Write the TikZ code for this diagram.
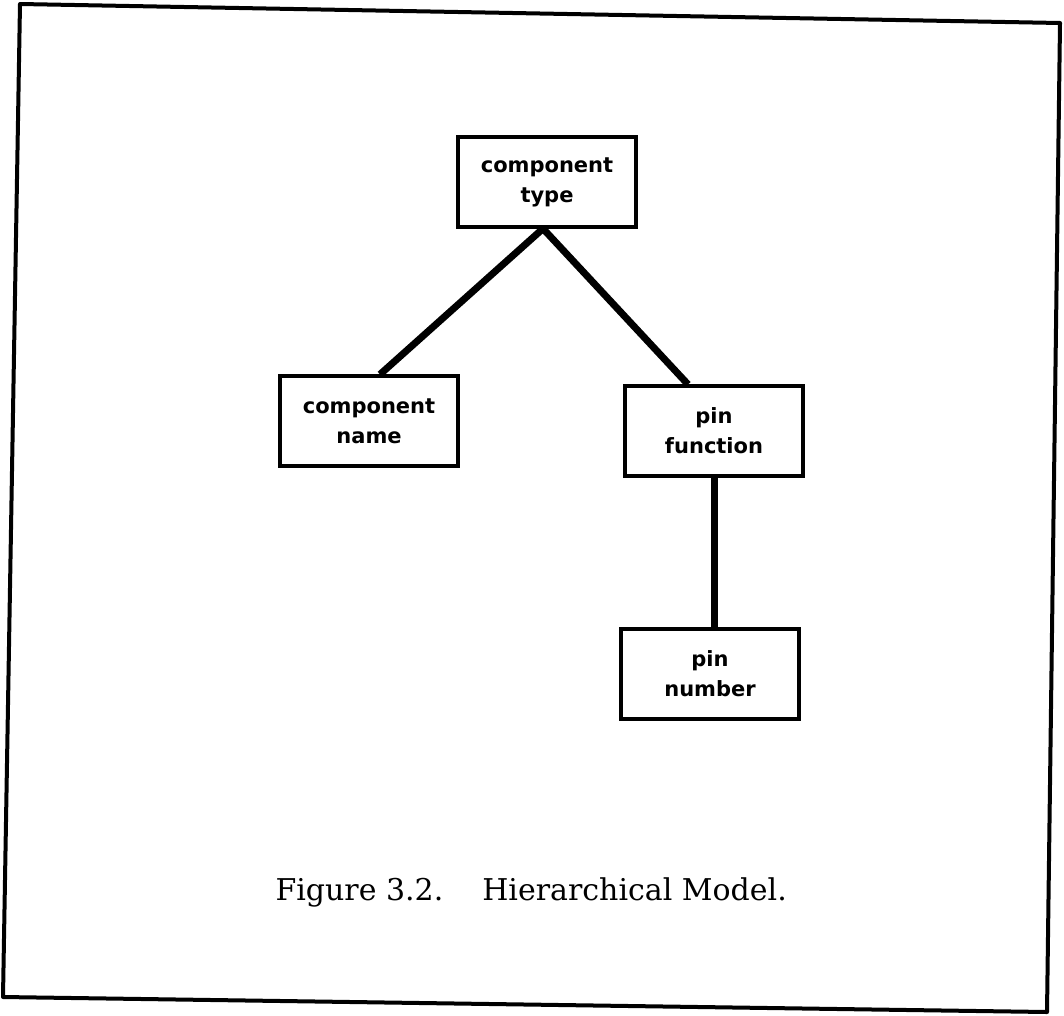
\documentclass[tikz,border=0pt]{standalone}
\usepackage{fontspec}
\setmainfont{DejaVu Serif}
\newfontfamily\boxfont{DejaVu Sans}
\begin{document}
\begin{tikzpicture}[x=1pt,y=-1pt,
  entity/.style={draw, line width=3.2pt, minimum width=178pt, minimum height=90pt,
    align=center, inner sep=0pt, font=\boxfont\bfseries\fontsize{21}{30}\selectfont},
  link/.style={line width=7pt},
  frame/.style={line width=4pt, line join=round}]
\useasboundingbox (0,0) rectangle (1064,1015);
% slightly skewed page frame
\draw[frame] (20,4) -- (1060,23) -- (1047,1012) -- (3,997) -- cycle;

\node[entity] (type) at (547,182) {component\\type};
\node[entity] (name) at (369,421) {component\\name};
\node[entity] (func) at (714,431) {pin\\function};
\node[entity] (num)  at (710,674) {pin\\number};

\draw[link] ([xshift=-4pt]type.south) -- ([xshift=11pt]name.north);
\draw[link] ([xshift=-4pt]type.south) -- ([xshift=-26pt]func.north);
\draw[link] (func.south) -- (func.south |- num.north);

\node[font=\fontsize{30}{34}\selectfont, anchor=base west] (caption) at (272,900)
  {Figure 3.2.\hspace{1.3em}Hierarchical Model.};
\end{tikzpicture}
\end{document}
